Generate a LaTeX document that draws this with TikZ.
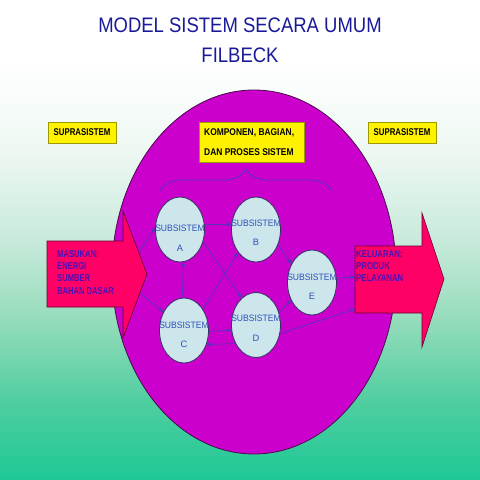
\documentclass[tikz,border=0pt]{standalone}
\usepackage{fontspec}
\setmainfont{Liberation Sans}
\usepackage{graphicx}
\usetikzlibrary{shapes.geometric,arrows.meta,decorations.pathreplacing}
\definecolor{bgA}{HTML}{1EC896}
\definecolor{bgB}{HTML}{50CEA0}
\definecolor{bgC}{HTML}{95DCBB}
\definecolor{bgD}{HTML}{C8EADB}
\definecolor{bgE}{HTML}{EEF8F3}
\definecolor{bgF}{HTML}{FFFFFF}
\definecolor{titleblue}{HTML}{1A1A99}
\definecolor{sysmag}{HTML}{CC00CC}
\definecolor{sysline}{HTML}{4A0A4A}
\definecolor{arrpink}{HTML}{FF0066}
\definecolor{arrline}{HTML}{660033}
\definecolor{subfill}{HTML}{CCE6EC}
\definecolor{subline}{HTML}{333366}
\definecolor{subtext}{HTML}{3050B8}
\definecolor{edgecol}{HTML}{5533BB}
\definecolor{arrtextcol}{HTML}{4A10B8}
\definecolor{yboxline}{HTML}{999900}
\tikzset{
  sysell/.style={ellipse, draw=sysline, line width=0.8pt, fill=sysmag, minimum width=284pt, minimum height=364pt, inner sep=0pt},
  subell/.style={ellipse, draw=subline, line width=0.8pt, fill=subfill, minimum width=49pt, minimum height=65pt, inner sep=0pt},
  subtxt/.style={text=subtext, font=\fontsize{9.3}{10}\selectfont, inner sep=0pt},
  edge/.style={draw=edgecol, line width=0.7pt, -{Triangle[length=4.5pt,width=4pt]}},
  bigarrow/.style={draw=arrline, line width=0.6pt, fill=arrpink},
  arrtxt/.style={text=arrtextcol, font=\bfseries\fontsize{10}{12.3}\selectfont, inner sep=0pt, anchor=north west, align=left},
  ybox/.style={draw=yboxline, line width=0.5pt, fill=yellow, inner sep=0pt, font=\bfseries\fontsize{9.8}{11}\selectfont},
  titletxt/.style={text=titleblue, font=\fontsize{21}{24}\selectfont, inner sep=0pt},
  bracestyle/.style={draw=edgecol, line width=0.8pt, decorate, decoration={brace, amplitude=22pt, aspect=0.5}}
}
\newcommand{\sx}[2]{\scalebox{#1}[1]{#2}}
\begin{document}
\begin{tikzpicture}[x=1pt,y=-1pt]
\useasboundingbox (0,0) rectangle (480,480);
% background gradient (drawn in a y-up scope)
\begin{scope}[y=1pt]
\fill[bgF] (0,-61) rectangle (480,0);
\shade[top color=bgF, bottom color=bgE] (0,-150.5) rectangle (480,-60);
\shade[top color=bgE, bottom color=bgD] (0,-240.5) rectangle (480,-150);
\shade[top color=bgD, bottom color=bgC] (0,-320.5) rectangle (480,-240);
\shade[top color=bgC, bottom color=bgB] (0,-400.5) rectangle (480,-320);
\shade[top color=bgB, bottom color=bgA] (0,-480) rectangle (480,-400);
\end{scope}
% title
\node[titletxt] (t1) at (240,25.5) {\sx{0.88}{MODEL SISTEM SECARA UMUM}};
\node[titletxt] (t2) at (240,55) {\sx{0.88}{FILBECK}};
% big system ellipse
\node[sysell] (sys) at (254,272) {};
% yellow boxes
\node[ybox, minimum width=68pt, minimum height=21pt] (supl) at (82,132.5) {\sx{0.8}{SUPRASISTEM}};
\node[ybox, minimum width=68pt, minimum height=21pt] (supr) at (402,132.5) {\sx{0.8}{SUPRASISTEM}};
\node[ybox, minimum width=105pt, minimum height=40pt] (komp) at (251.5,142) {};
\node[inner sep=0pt, anchor=west, font=\bfseries\fontsize{9.8}{11}\selectfont] (komp1) at (204,133) {\sx{0.86}{KOMPONEN, BAGIAN,}};
\node[inner sep=0pt, anchor=west, font=\bfseries\fontsize{9.8}{11}\selectfont] (komp2) at (204,152) {\sx{0.86}{DAN PROSES SISTEM}};
% brace
\coordinate (brL) at (160,191);
\coordinate (brR) at (332,191);
\draw[bracestyle] (brL) -- (brR);
% big arrows
\draw[bigarrow] (47,241) -- (123,241) -- (123,211) -- (147,274) -- (123,338) -- (123,307) -- (47,307) -- cycle;
\draw[bigarrow] (355,246) -- (422,246) -- (422,213) -- (444,279) -- (422,347) -- (422,313) -- (355,313) -- cycle;
\node[arrtxt] (intext) at (57,250) {\sx{0.76}{MASUKAN:}\\\sx{0.76}{ENERGI}\\\sx{0.76}{SUMBER}\\\sx{0.76}{BAHAN DASAR}};
\node[arrtxt] (outtext) at (356,250) {\sx{0.78}{KELUARAN:}\\\sx{0.78}{PRODUK}\\\sx{0.78}{PELAYANAN}};
% subsystems
\node[subell] (A) at (180,229.5) {};
\node[subell] (B) at (256,229.5) {};
\node[subell] (E) at (312,282.5) {};
\node[subell] (C) at (184,330.5) {};
\node[subell] (D) at (256,325) {};
\node[subtxt] (At1) at (180,228) {\sx{0.92}{SUBSISTEM}};
\node[subtxt] (At2) at (180,248) {A};
\node[subtxt] (Bt1) at (256,223) {\sx{0.92}{SUBSISTEM}};
\node[subtxt] (Bt2) at (256,242) {B};
\node[subtxt] (Et1) at (312,277) {\sx{0.92}{SUBSISTEM}};
\node[subtxt] (Et2) at (312,296) {E};
\node[subtxt] (Ct1) at (184,325) {\sx{0.92}{SUBSISTEM}};
\node[subtxt] (Ct2) at (184,344) {C};
\node[subtxt] (Dt1) at (256,318) {\sx{0.92}{SUBSISTEM}};
\node[subtxt] (Dt2) at (256,338) {D};
% connectors
\coordinate (in1) at (139,252);
\coordinate (in2) at (140,293);
\coordinate (out1) at (355,277);
\coordinate (out2) at (355,309);
\draw[edge] (in1) -- (A.176);
\draw[edge] (in2) -- (C.138);
\draw[edge] (A.12) -- (B.168);
\draw[edge] (A.-28) -- (D.118);
\draw[edge] (C.93) -- (A.-84);
\draw[edge] (C.48) -- (B.-128);
\draw[edge] (C.-2) -- (D.192);
\draw[edge] (D.-138) -- (C.-32);
\draw[edge] (B.-35) -- (E.138);
\draw[edge] (D.28) -- (E.-140);
\draw[edge] (E.10) -- (out1);
\draw[edge] (D.-20) -- (out2);
\end{tikzpicture}
\end{document}
